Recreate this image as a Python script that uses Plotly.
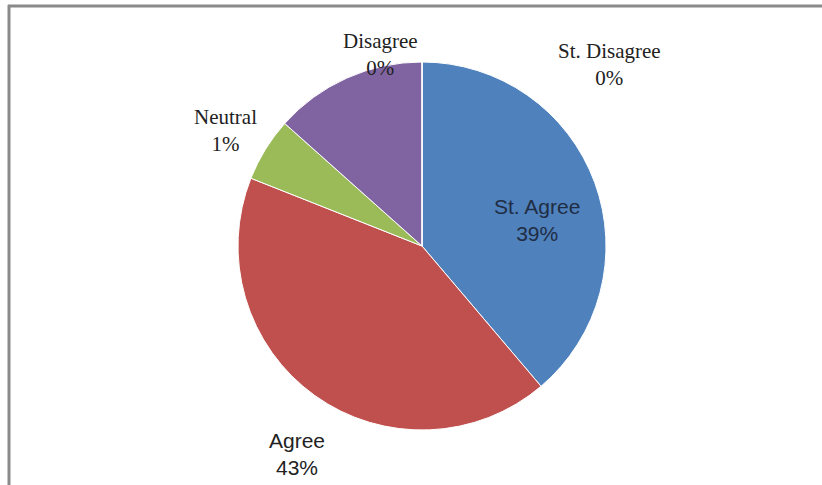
import plotly.graph_objects as go

categories = ["St. Agree", "Agree", "Neutral", "Disagree", "St. Disagree"]
slice_values = [38.8, 42.2, 5.6, 13.4, 0.0]
label_percents = ["39%", "43%", "1%", "0%", "0%"]
colors = ["#4F81BD", "#C0504D", "#9BBB59", "#8064A2", "#F79646"]

W, H = 822, 485
cx, cy, r = 422, 246, 184

fig = go.Figure(go.Pie(
    labels=categories,
    values=slice_values,
    sort=False,
    direction="clockwise",
    rotation=0,
    textinfo="none",
    hoverinfo="label+percent",
    marker=dict(colors=colors, line=dict(color="white", width=1)),
    showlegend=False,
    domain=dict(x=[(cx - r) / W, (cx + r) / W], y=[(H - cy - r) / H, (H - cy + r) / H]),
))

serif = "Liberation Serif, Times New Roman, serif"
sans = "Liberation Sans, Arial, sans-serif"
# label placement (pixel centres) and fonts
label_layout = {
    "St. Agree": (537, 220, sans, 21, "#1F2D44"),
    "Agree": (297, 454, sans, 21, "#222222"),
    "Neutral": (225, 131, serif, 21, "#222222"),
    "Disagree": (380, 54, serif, 21, "#222222"),
    "St. Disagree": (609, 65, serif, 21, "#222222"),
}
annotations = []
for cat, pct in zip(categories, label_percents):
    px, py, fam, size, col = label_layout[cat]
    annotations.append(dict(
        x=px / W, y=1 - py / H, xref="paper", yref="paper",
        text=f"{cat}<br>{pct}", showarrow=False,
        font=dict(family=fam, size=size, color=col),
        xanchor="center", yanchor="middle", align="center",
    ))

shapes = [
    dict(type="line", xref="paper", yref="paper", x0=8 / W, x1=1, y0=1 - 6 / H, y1=1 - 6 / H,
         line=dict(color="#8A8A8A", width=3)),
    dict(type="line", xref="paper", yref="paper", x0=9 / W, x1=9 / W, y0=1 - 5 / H, y1=0,
         line=dict(color="#8A8A8A", width=3)),
]

fig.update_layout(
    width=W, height=H,
    margin=dict(l=0, r=0, t=0, b=0),
    paper_bgcolor="white", plot_bgcolor="white",
    annotations=annotations, shapes=shapes,
)

fig.write_html("out.html", config={"displayModeBar": False},
               post_script="document.body.style.margin='0';")
